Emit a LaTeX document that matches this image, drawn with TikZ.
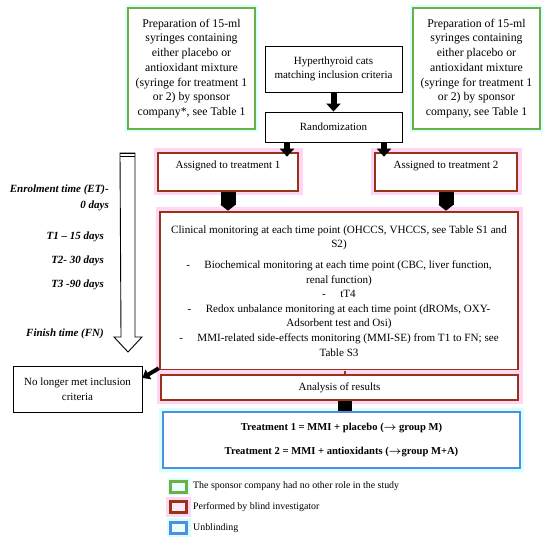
\documentclass[tikz,border=0pt]{standalone}
\usepackage{fontspec}
\setmainfont{Liberation Serif}
\usepackage{tikz}
\usetikzlibrary{arrows.meta}

\definecolor{sponsor}{RGB}{112,173,71}
\definecolor{blind}{RGB}{150,52,22}
\definecolor{blindglow}{RGB}{255,214,246}
\definecolor{unblind}{RGB}{82,140,222}
\definecolor{coolglow}{RGB}{214,255,255}

\begin{document}
\begin{tikzpicture}
  [x=1pt,y=-1pt,every node/.style={align=center,inner sep=3pt,
    font=\fontsize{11}{14.7}\selectfont}]

  \tikzstyle{plain}   = [draw,line width=0.9pt,fill=white]
  \tikzstyle{green}   = [draw=sponsor,line width=2.6pt,fill=white,
                         preaction={draw=coolglow,line width=6pt}]
  \tikzstyle{brown}   = [draw=blind,line width=2.6pt,fill=white,
                         preaction={draw=blindglow,line width=9pt}]
  \tikzstyle{blue}    = [draw=unblind,line width=2.6pt,fill=white,
                         preaction={draw=coolglow,line width=8pt}]
  \tikzstyle{key}     = [minimum width=16pt,minimum height=11pt,inner sep=0pt]
  \tikzstyle{keytext} = [anchor=west,font=\fontsize{9.9}{11}\selectfont]
  \tikzstyle{time}    = [anchor=east,font=\fontsize{11}{14}\selectfont\bfseries\itshape]
  \tikzstyle{block}   = [line width=6pt,-{Triangle[width=14pt,length=8pt]}]

  \useasboundingbox (0,0) rectangle (550,540);

  % preparation by the sponsor
  \node[green,minimum width=127pt,minimum height=121pt,
        font=\fontsize{11.8}{14.7}\selectfont] (prep1) at (191.5,68.5)
    {Preparation of 15-ml\\syringes containing\\either placebo or\\antioxidant mixture\\(syringe for treatment 1\\or 2) by sponsor\\company*, see Table 1};
  \node[green,minimum width=127pt,minimum height=121pt,
        font=\fontsize{11.8}{14.7}\selectfont] (prep2) at (476.5,68.5)
    {Preparation of 15-ml\\syringes containing\\either placebo or\\antioxidant mixture\\(syringe for treatment 1\\or 2) by sponsor\\company, see Table 1};

  % enrolment
  \node[plain,minimum width=137pt,minimum height=46pt] (cats) at (333.5,69)
    {Hyperthyroid cats\\matching inclusion criteria};
  \node[plain,minimum width=137pt,minimum height=30pt] (rand) at (333.5,127)
    {Randomization};

  \node[brown,minimum width=140pt,text height=8pt,text depth=14pt,inner ysep=8pt]
    (ass1) at (228,172) {Assigned to treatment 1};
  \node[brown,minimum width=142pt,text height=8pt,text depth=14pt,inner ysep=8pt]
    (ass2) at (446,172) {Assigned to treatment 2};

  \node[brown,minimum width=358pt,minimum height=158pt,
        font=\fontsize{11.1}{14.6}\selectfont] (clin) at (339,291)
    {Clinical monitoring at each time point (OHCCS, VHCCS, see Table S1 and\\
     S2)\\[6pt]
     -\hspace{1.3em}Biochemical monitoring at each time point (CBC, liver function,\\
     renal function)\\
     -\hspace{1.3em}tT4\\
     -\hspace{1.3em}Redox unbalance monitoring at each time point (dROMs, OXY-\\
     Adsorbent test and Osi)\\
     -\hspace{1.3em}MMI-related side-effects monitoring (MMI-SE) from T1 to FN; see\\
     Table S3};

  \node[brown,minimum width=357pt,minimum height=25pt] (anal) at (339.5,387.5)
    {Analysis of results};

  \node[blue,minimum width=357pt,minimum height=56pt,
        font=\fontsize{10.6}{24}\selectfont\bfseries] (unbl) at (341.5,440)
    {Treatment 1 = MMI + placebo ({\boldmath$\rightarrow$}\ group M)\\
     Treatment 2 = MMI + antioxidants ({\boldmath$\rightarrow$}group M+A)};

  \node[plain,minimum width=129pt,minimum height=46pt] (drop) at (77.5,389)
    {No longer met inclusion\\criteria};

  % time line
  \draw[line width=0.9pt,fill=white] (120,153) -- (135,153) -- (135,337) -- (142,337)
    -- (128,352) -- (114,337) -- (121,337) -- cycle;
  \draw[line width=1.6pt] (120,153.5) -- (135,153.5);
  \draw[line width=0.7pt] (120,156.5) -- (135,156.5);

  \node[time] (t0) at (112,190) {Enrolment time (ET)-};
  \node[time] (t0b) at (112,206) {0 days};
  \node[time] (t1) at (107,237) {T1 -- 15 days};
  \node[time] (t2) at (107,261) {T2- 30 days};
  \node[time] (t3) at (107,285) {T3 -90 days};
  \node[time] (t4) at (107,334) {Finish time (FN)};

  % connectors
  \draw[block] (cats.south) -- (rand.north);
  \draw[block] (rand.south -| 287,0) -- ([yshift=-5pt]ass1.north -| 287,0);
  \draw[block] (rand.south -| 384,0) -- ([yshift=-5pt]ass2.north -| 384,0);
  \draw[line width=15pt,-{Triangle[width=15pt,length=6pt]}] (ass1.south) -- (ass1.south |- clin.north);
  \draw[line width=15pt,-{Triangle[width=15pt,length=6pt]}] (ass2.south) -- (ass2.south |- clin.north);
  \draw[line width=4pt,-{Triangle[width=11pt,length=7pt]}] ([yshift=3pt]clin.south west) -- ([yshift=11pt]drop.east);
  \draw[blind,line width=1.5pt] (clin.south -| 345,0) -- (anal.north -| 345,0);
  \draw[line width=14pt] (anal.south -| 345,0) -- (unbl.north -| 345,0);

  % key
  \node[green,key,fill=coolglow!60,preaction={draw=coolglow,line width=4pt}] (k1) at (178.5,487) {};
  \node[brown,key,fill=blindglow!60,preaction={draw=blindglow,line width=4pt}] (k2) at (178.5,507) {};
  \node[blue,key,fill=coolglow!60,preaction={draw=coolglow,line width=4pt}] (k3) at (178.5,528) {};
  \node[keytext] at (190,486) {The sponsor company had no other role in the study};
  \node[keytext] at (190,507) {Performed by blind investigator};
  \node[keytext] at (190,528) {Unblinding};
\end{tikzpicture}
\end{document}
